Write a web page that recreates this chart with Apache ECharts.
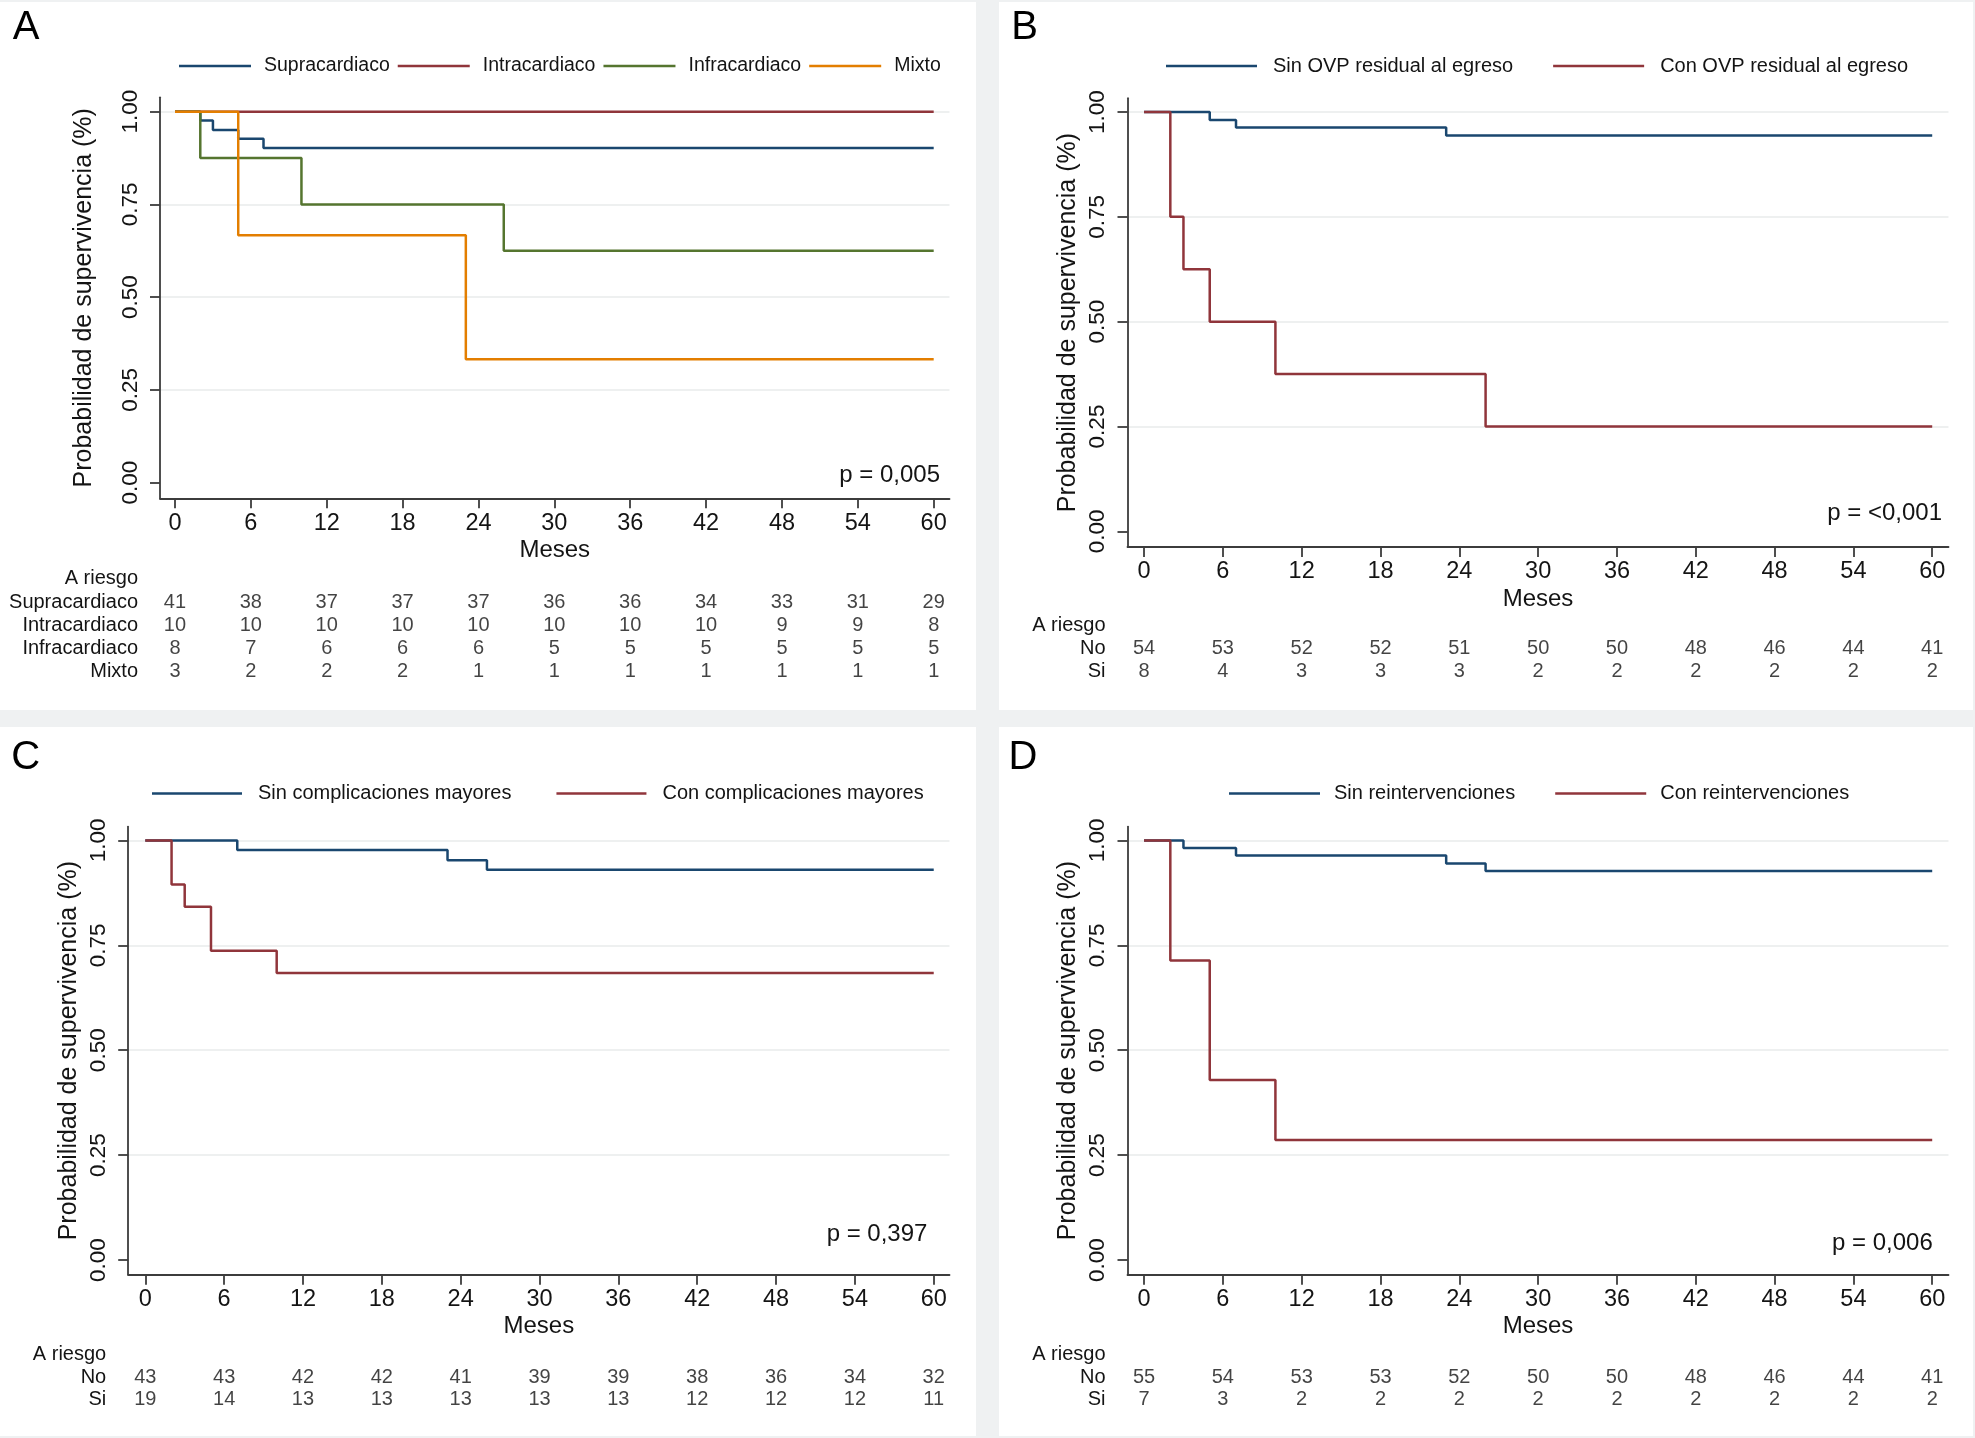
<!DOCTYPE html>
<html><head><meta charset="utf-8">
<script src="https://cdn.jsdelivr.net/npm/echarts@6/dist/echarts.min.js"></script>
<style>html,body{margin:0;padding:0;background:#eff1f2}#c{width:1975px;height:1438px}</style>
</head><body><div id="c"></div>
<script>
// ---------- shared ticks ----------
const months = [0, 6, 12, 18, 24, 30, 36, 42, 48, 54, 60];
const yTicks = [0, 0.25, 0.5, 0.75, 1];

// ---------- Panel A ----------
const aNames = ['Supracardiaco', 'Intracardiaco', 'Infracardiaco', 'Mixto'];
const aSupraT = [0, 2, 3, 5, 7, 60];
const aSupraS = [1, 0.976, 0.951, 0.927, 0.902, 0.902];
const aIntraT = [0, 60];
const aIntraS = [1, 1];
const aInfraT = [0, 2, 10, 26, 60];
const aInfraS = [1, 0.875, 0.75, 0.625, 0.625];
const aMixtoT = [0, 5, 23, 60];
const aMixtoS = [1, 0.667, 0.333, 0.333];
const aRiskSupra = [41, 38, 37, 37, 37, 36, 36, 34, 33, 31, 29];
const aRiskIntra = [10, 10, 10, 10, 10, 10, 10, 10, 9, 9, 8];
const aRiskInfra = [8, 7, 6, 6, 6, 5, 5, 5, 5, 5, 5];
const aRiskMixto = [3, 2, 2, 2, 1, 1, 1, 1, 1, 1, 1];
const aP = 'p = 0,005';

// ---------- Panel B ----------
const bNames = ['Sin OVP residual al egreso', 'Con OVP residual al egreso'];
const bSinT = [0, 5, 7, 23, 60];
const bSinS = [1, 0.981, 0.963, 0.944, 0.944];
const bConT = [0, 2, 3, 5, 10, 26, 60];
const bConS = [1, 0.75, 0.625, 0.5, 0.375, 0.25, 0.25];
const bRiskNo = [54, 53, 52, 52, 51, 50, 50, 48, 46, 44, 41];
const bRiskSi = [8, 4, 3, 3, 3, 2, 2, 2, 2, 2, 2];
const bP = 'p = <0,001';

// ---------- Panel C ----------
const cNames = ['Sin complicaciones mayores', 'Con complicaciones mayores'];
const cSinT = [0, 7, 23, 26, 60];
const cSinS = [1, 0.977, 0.953, 0.930, 0.930];
const cConT = [0, 2, 3, 5, 10, 60];
const cConS = [1, 0.895, 0.842, 0.737, 0.684, 0.684];
const cRiskNo = [43, 43, 42, 42, 41, 39, 39, 38, 36, 34, 32];
const cRiskSi = [19, 14, 13, 13, 13, 13, 13, 12, 12, 12, 11];
const cP = 'p = 0,397';

// ---------- Panel D ----------
const dNames = ['Sin reintervenciones', 'Con reintervenciones'];
const dSinT = [0, 3, 7, 23, 26, 60];
const dSinS = [1, 0.982, 0.964, 0.945, 0.927, 0.927];
const dConT = [0, 2, 5, 10, 60];
const dConS = [1, 0.714, 0.429, 0.286, 0.286];
const dRiskNo = [55, 54, 53, 53, 52, 50, 50, 48, 46, 44, 41];
const dRiskSi = [7, 3, 2, 2, 2, 2, 2, 2, 2, 2, 2];
const dP = 'p = 0,006';

const riskHeader = 'A riesgo';
const xTitle = 'Meses';
const yTitle = 'Probabilidad de supervivencia (%)';

// ---------- styles / layout ----------
const FONT = '"Liberation Sans", Arial, Helvetica, sans-serif';
const NAVY = '#1a476f', MAROON = '#90353b', GREEN = '#55752f', ORANGE = '#e37e00';
const AXIS = '#3c3c3c', TXT = '#141414', GRIDC = '#e9ebeb';

const panels = [
  { letter: 'A', p: aP,
    curves: [[aNames[0], aSupraT, aSupraS, NAVY], [aNames[1], aIntraT, aIntraS, MAROON],
             [aNames[2], aInfraT, aInfraS, GREEN], [aNames[3], aMixtoT, aMixtoS, ORANGE]],
    rows: aNames, risk: [aRiskSupra, aRiskIntra, aRiskInfra, aRiskMixto],
    L: { l: 160, t: 97.3, r: 949.5, b: 498.3, x: [-1.186, 61.25], y: [-0.042, 1.0388],
         rt: 567.4, rh: 115.5, lgl: 179, lgt: 56, lw: 72, tg: 8, ig: 8, font: 19.5,
         yng: 63, px: 940, py: 475.6, lx: 26, ly: 28, bg: [0, 2, 976, 708] } },
  { letter: 'B', p: bP,
    curves: [[bNames[0], bSinT, bSinS, NAVY], [bNames[1], bConT, bConS, MAROON]],
    rows: ['No', 'Si'], risk: [bRiskNo, bRiskSi],
    L: { l: 1127.5, t: 98.2, r: 1948.5, b: 547, x: [-1.26, 61.24], y: [-0.0374, 1.033],
         rt: 614.3, rh: 69.2, lgl: 1166, lgt: 56, lw: 91, tg: 11, ig: 40, font: 20,
         yng: 47, px: 1942, py: 513, lx: 1024.6, ly: 28, bg: [999, 2, 974, 708] } },
  { letter: 'C', p: cP,
    curves: [[cNames[0], cSinT, cSinS, NAVY], [cNames[1], cConT, cConS, MAROON]],
    rows: ['No', 'Si'], risk: [cRiskNo, cRiskSi],
    L: { l: 128.2, t: 826.6, r: 949.5, b: 1274.7, x: [-1.30, 61.2], y: [-0.035, 1.033],
         rt: 1343.7, rh: 67.5, lgl: 152, lgt: 783.5, lw: 90, tg: 11, ig: 45, font: 20,
         yng: 47, px: 927.4, py: 1234.7, lx: 25.8, ly: 758, bg: [0, 727, 976, 709] } },
  { letter: 'D', p: dP,
    curves: [[dNames[0], dSinT, dSinS, NAVY], [dNames[1], dConT, dConS, MAROON]],
    rows: ['No', 'Si'], risk: [dRiskNo, dRiskSi],
    L: { l: 1127.5, t: 826.6, r: 1948.5, b: 1274.7, x: [-1.26, 61.24], y: [-0.035, 1.033],
         rt: 1343.7, rh: 67.5, lgl: 1229, lgt: 783.5, lw: 91, tg: 9, ig: 40, font: 20,
         yng: 47, px: 1932.8, py: 1243, lx: 1023, ly: 758, bg: [999, 727, 974, 709] } }
];

const grid = [], xAxis = [], yAxis = [], series = [], legend = [], graphic = [];

panels.forEach((P, i) => {
  const L = P.L;
  graphic.push({ type: 'rect', z: -100, silent: true,
    shape: { x: L.bg[0], y: L.bg[1], width: L.bg[2], height: L.bg[3] },
    style: { fill: '#ffffff' } });
  graphic.push({ type: 'text', z: 100, x: L.lx, y: L.ly, silent: true,
    style: { text: P.letter, font: '40px ' + FONT, fill: '#000', align: 'center', verticalAlign: 'middle' } });
  graphic.push({ type: 'text', z: 100, x: L.px, y: L.py, silent: true,
    style: { text: P.p, font: '24px ' + FONT, fill: TXT, align: 'right', verticalAlign: 'middle' } });

  // plot grid
  const g = grid.length;
  grid.push({ left: L.l, top: L.t, width: L.r - L.l, height: L.b - L.t, outerBoundsMode: 'none', containLabel: false });
  xAxis.push({
    type: 'value', gridIndex: g, min: L.x[0], max: L.x[1],
    axisLine: { show: true, onZero: false, lineStyle: { color: AXIS, width: 1.8 } },
    axisTick: { show: true, customValues: months, length: 10, lineStyle: { color: AXIS, width: 1.8 } },
    axisLabel: { show: true, customValues: months, fontSize: 23.5, margin: 13, color: TXT, fontFamily: FONT },
    splitLine: { show: false },
    name: xTitle, nameLocation: 'middle', nameGap: 40,
    nameTextStyle: { fontSize: 24, color: TXT, fontFamily: FONT }
  });
  yAxis.push({
    type: 'value', gridIndex: g, min: L.y[0], max: L.y[1],
    axisLine: { show: true, onZero: false, lineStyle: { color: AXIS, width: 1.8 } },
    axisTick: { show: true, customValues: yTicks, length: 10, lineStyle: { color: AXIS, width: 1.8 } },
    axisLabel: { show: true, customValues: yTicks, rotate: 90, fontSize: 22.5, margin: 18, color: TXT,
                 fontFamily: FONT, formatter: v => Number(v).toFixed(2) },
    splitLine: { show: true, showMinLine: false, showMaxLine: true, lineStyle: { color: GRIDC, width: 1.5 } },
    name: yTitle, nameLocation: 'middle', nameRotate: 90, nameGap: L.yng,
    nameTextStyle: { fontSize: 25, color: TXT, fontFamily: FONT }
  });
  P.curves.forEach(c => {
    series.push({
      type: 'line', name: c[0], xAxisIndex: g, yAxisIndex: g, step: 'end',
      showSymbol: false, symbol: 'none', color: c[3], silent: true, animation: false,
      lineStyle: { color: c[3], width: 2.5 },
      data: c[1].map((t, k) => [t, c[2][k]])
    });
  });

  // risk table grid
  const rg = grid.length;
  grid.push({ left: L.l, top: L.rt, width: L.r - L.l, height: L.rh, outerBoundsMode: 'none', containLabel: false });
  xAxis.push({ type: 'value', gridIndex: rg, min: L.x[0], max: L.x[1], show: false });
  const rowCats = [riskHeader].concat(P.rows);
  yAxis.push({
    type: 'category', gridIndex: rg, data: rowCats, inverse: true,
    axisLine: { show: false }, axisTick: { show: false }, splitLine: { show: false },
    axisLabel: { interval: 0, fontSize: 20, color: TXT, margin: 22, fontFamily: FONT, hideOverlap: false }
  });
  P.risk.forEach((arr, r) => {
    series.push({
      type: 'scatter', name: 'risk-' + P.letter + '-' + r, xAxisIndex: rg, yAxisIndex: rg,
      symbolSize: 1, itemStyle: { color: 'rgba(0,0,0,0)' }, silent: true, animation: false,
      label: { show: true, position: 'inside', fontSize: 20, color: TXT, fontFamily: FONT,
               formatter: p => p.value[2] },
      data: months.map((m, k) => [m, r + 1, arr[k]])
    });
  });

  legend.push({
    data: P.curves.map(c => c[0]), left: L.lgl, top: L.lgt, padding: 0,
    icon: 'rect', itemWidth: L.lw, itemHeight: 2.4, itemGap: L.ig, selectedMode: false,
    textStyle: { fontSize: L.font, color: TXT, fontFamily: FONT, padding: [0, 0, 0, L.tg] }
  });
});

const chart = echarts.init(document.getElementById('c'));
chart.setOption({
  backgroundColor: '#eff1f2',
  animation: false,
  textStyle: { fontFamily: FONT },
  grid, xAxis, yAxis, series, legend, graphic
});
</script></body></html>
